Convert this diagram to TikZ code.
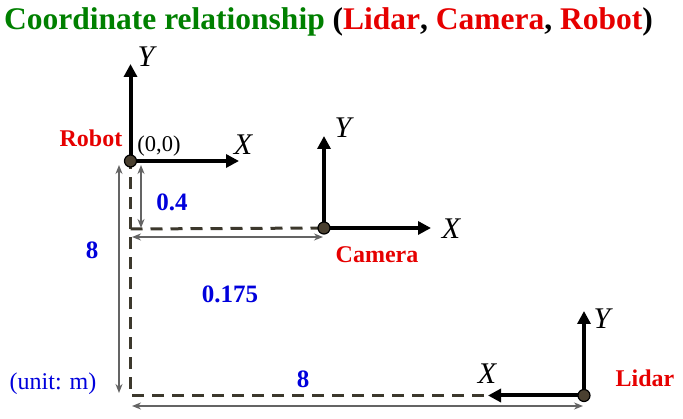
\documentclass[tikz,border=0pt]{standalone}
\usepackage{fontspec}
\setmainfont{Liberation Serif}
\usetikzlibrary{arrows.meta,backgrounds}
\definecolor{ttlgreen}{RGB}{0,128,0}
\definecolor{lblred}{RGB}{230,0,0}
\definecolor{lblblue}{RGB}{0,0,220}
\definecolor{dashcol}{RGB}{60,56,44}
\definecolor{dimcol}{RGB}{100,100,100}
\definecolor{origfill}{RGB}{74,64,48}
\begin{document}
\begin{tikzpicture}[x=1pt,y=-1pt,
  origin/.style={circle,draw=black,fill=origfill,line width=1.2pt,minimum size=12pt,inner sep=0pt},
  axis/.style={line width=4pt,-{Triangle[length=13pt,width=13pt]}},
  dimarrow/.style={draw=dimcol,line width=1.5pt,{Stealth[length=9pt,width=7pt]}-{Stealth[length=9pt,width=7pt]}},
  dashline/.style={draw=dashcol,line width=3pt,dash pattern=on 12pt off 8pt},
  axlbl/.style={font=\fontsize{30}{30}\selectfont\itshape,inner sep=0pt},
  frame/.style={font=\fontsize{24}{24}\selectfont\bfseries,text=lblred,inner sep=0pt},
  dimlbl/.style={font=\fontsize{25}{25}\selectfont\bfseries,text=lblblue,inner sep=0pt}]
\useasboundingbox (0,0) rectangle (683,419);
% title
\node[anchor=west,inner sep=0pt,font=\fontsize{31.5}{31.5}\selectfont\bfseries] (title) at (4,22)
  {\textcolor{ttlgreen}{Coordinate relationship} (\textcolor{lblred}{Lidar}, \textcolor{lblred}{Camera}, \textcolor{lblred}{Robot})};
% origins
\node[origin] (R) at (130.5,161) {};
\node[origin] (C) at (324,228) {};
\node[origin] (L) at (584,395.5) {};
\coordinate (RY) at (130.5,64);
\coordinate (RX) at (239,161);
\coordinate (CY) at (324,136);
\coordinate (CX) at (431,228);
\coordinate (LY) at (584,311);
\coordinate (LX) at (488,395.5);
\coordinate (dC) at (130.5,229);
\coordinate (dB) at (130.5,395.5);
\begin{scope}[on background layer]
% dashed lines
\draw[dashline] (L.center) -- (dB) -- (R.center);
\draw[dashline] (dC) -- (C.center);
% axes
\draw[axis] (R.center) -- (RY);
\draw[axis] (R.center) -- (RX);
\draw[axis] (C.center) -- (CY);
\draw[axis] (C.center) -- (CX);
\draw[axis] (L.center) -- (LY);
\draw[axis] (L.center) -- (LX);
\end{scope}
% dimension arrows
\coordinate (a1) at (119,165); \coordinate (a2) at (119,393);
\coordinate (b1) at (141,165); \coordinate (b2) at (141,228);
\coordinate (c1) at (132,237); \coordinate (c2) at (323,237);
\coordinate (d1) at (132,406); \coordinate (d2) at (583,406);
\draw[dimarrow] (a1) -- (a2);
\draw[dimarrow] (b1) -- (b2);
\draw[dimarrow] (c1) -- (c2);
\draw[dimarrow] (d1) -- (d2);
% axis labels
\node[axlbl] (RYl) at (146,57) {Y};
\node[axlbl] (RXl) at (243,145) {X};
\node[axlbl] (CYl) at (343,128) {Y};
\node[axlbl] (CXl) at (451,229) {X};
\node[axlbl] (LYl) at (602,319) {Y};
\node[axlbl] (LXl) at (487,374) {X};
% frame labels
\node[frame] (Rl) at (91,138) {Robot};
\node[inner sep=0pt,font=\fontsize{22.5}{22.5}\selectfont] (zero) at (159,146) {(0,0)};
\node[frame] (Cl) at (377,255) {Camera};
\node[frame] (Ll) at (645,378) {Lidar};
% dimension labels
\node[dimlbl] (d04) at (172,202) {0.4};
\node[dimlbl] (d8a) at (92,250) {8};
\node[dimlbl] (d175) at (230,294) {0.175};
\node[dimlbl] (d8b) at (303,379) {8};
\node[inner sep=0pt,text=lblblue,font=\fontsize{24}{24}\selectfont] (unit) at (53,384) {(unit: m)};
\end{tikzpicture}
\end{document}
